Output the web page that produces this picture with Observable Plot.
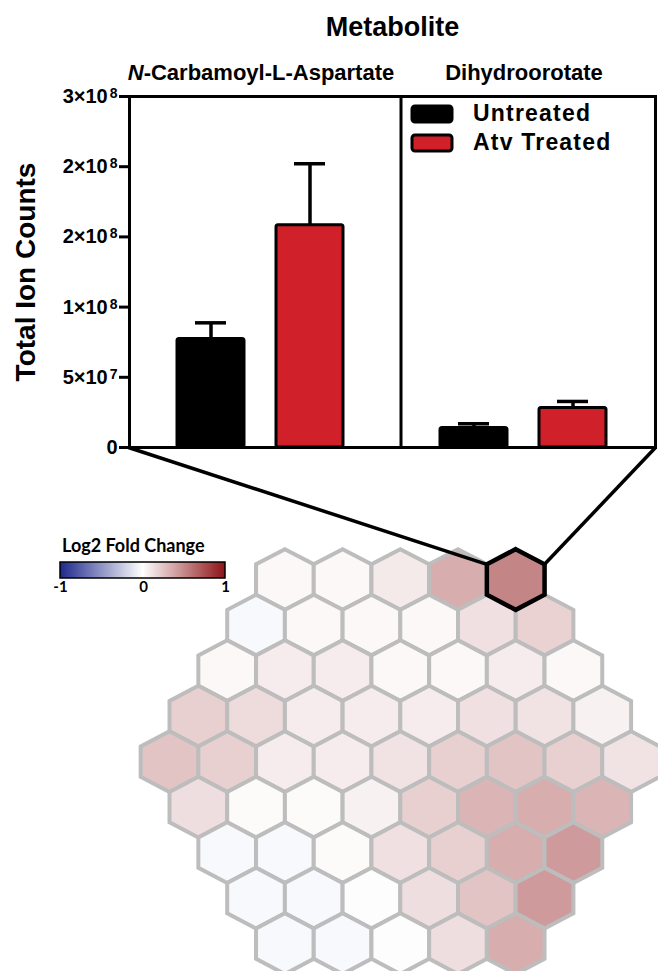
<!DOCTYPE html>
<html>
<head>
<meta charset="utf-8">
<script src="https://cdn.jsdelivr.net/npm/d3@7"></script>
<script src="https://cdn.jsdelivr.net/npm/@observablehq/plot@0.6"></script>
<style>
  html, body { margin: 0; padding: 0; background: #fff; }
  #root { position: relative; width: 658px; height: 971px; overflow: hidden; font-family: "Liberation Sans", Arial, sans-serif; }
  #bars { position: absolute; left: 0; top: 0; }
  #hex { position: absolute; left: 0; }
  #bars g[aria-label="fx-axis label"] { font-size: 27px; font-weight: bold; }
  #bars g[aria-label="y-axis label"] { font-size: 28px; font-weight: bold; }
  #barLegend { position: absolute; left: 411.5px; top: 105.5px; }
  #barLegend [class*="swatches"] { display: flex !important; flex-direction: column; align-items: flex-start; font: bold 23px "Liberation Sans", Arial, sans-serif; letter-spacing: 1.2px; margin: 0; min-height: 0; }
  #barLegend [class$="-swatch"] { display: flex !important; align-items: center; height: 16px; margin: 0 0 13px 0 !important; }
  #barLegend svg { margin-right: 21.5px !important; overflow: visible; }
  #barLegend rect { stroke: #000; stroke-width: 3px; rx: 3px; }
  #fcTitle { position: absolute; left: 62px; top: 536px; font: bold 18px Lato, "Open Sans", sans-serif; line-height: 18px; color: #000; }
  #fcLegend { position: absolute; left: 50px; top: 560px; }
</style>
</head>
<body>
<div id="root">
  <div id="bars"></div>
  <div id="hex"></div>
  <div id="barLegend"></div>
  <div id="fcTitle">Log2 Fold Change</div>
  <div id="fcLegend"></div>
</div>
<script>
// ---------------- Bar chart data ----------------
const metabolites = ["N-Carbamoyl-L-Aspartate", "Dihydroorotate"];
const groups = ["Untreated", "Atv Treated"];
const groupColors = ["#000000", "#d0212a"];
const meanUntreated = [7.73e7, 1.39e7];
const meanTreated = [1.583e8, 2.81e7];
const semUntreated = [1.15e7, 3.0e6];
const semTreated = [4.38e7, 4.7e6];
const yTicks = [0, 5e7, 1e8, 1.5e8, 2e8, 2.5e8];
const yTickLabels = ["0", "5×10⁷", "1×10⁸", "2×10⁸", "2×10⁸", "3×10⁸"];

// ---------------- Hex map data (log2 fold change), rows top to bottom ----------------
const hexRow0 = [0.03, 0.03, 0.09, 0.35, 0.52];
const hexRow1 = [-0.03, 0.03, 0.03, 0.03, 0.13, 0.19];
const hexRow2 = [0.03, 0.08, 0.08, 0.03, 0.03, 0.08, 0.03];
const hexRow3 = [0.20, 0.15, 0.08, 0.08, 0.08, 0.13, 0.12, 0.06];
const hexRow4 = [0.25, 0.20, 0.08, 0.08, 0.12, 0.20, 0.25, 0.20, 0.12];
const hexRow5 = [0.14, 0.02, 0.02, 0.06, 0.20, 0.32, 0.35, 0.32];
const hexRow6 = [-0.03, -0.03, 0.02, 0.13, 0.20, 0.35, 0.43];
const hexRow7 = [-0.03, -0.03, 0.01, 0.14, 0.25, 0.43];
const hexRow8 = [-0.03, -0.03, 0.01, 0.14, 0.35];
const highlightRow = 0, highlightIndex = 4;
const fcTicks = [-1, 0, 1];
const fcTickLabels = ["-1", "0", "1"];
const fcColors = ["#1f2a8c", "#ffffff", "#8e1418"];

// ---------------- Bar chart ----------------
const barData = metabolites.flatMap((m, i) => [
  {metabolite: m, group: groups[0], mean: meanUntreated[i], top: meanUntreated[i] + semUntreated[i]},
  {metabolite: m, group: groups[1], mean: meanTreated[i], top: meanTreated[i] + semTreated[i]}
]);

const BAR_W = 658, BAR_H = 450, BAR_ML = 128, BAR_MR = 3, BAR_MT = 96, BAR_MB = 3;
const DIVIDER_SHIFT = 8.5; // the panel divider sits slightly right of the facet boundary
const frameStyle = {stroke: "black", strokeWidth: 3};

const barPlot = Plot.plot({
  width: BAR_W, height: BAR_H,
  marginLeft: BAR_ML, marginRight: BAR_MR, marginTop: BAR_MT, marginBottom: BAR_MB,
  style: {background: "transparent", fontFamily: "'Liberation Sans', Arial, sans-serif", overflow: "visible", color: "#000"},
  fx: {domain: metabolites, padding: 0},
  x: {domain: groups, paddingInner: 0.32, paddingOuter: 0.48, axis: null},
  y: {domain: [0, 2.5e8], nice: false},
  color: {domain: groups, range: groupColors},
  marks: [
    Plot.axisFx({anchor: "top", tickSize: 0, tickPadding: 17, fontSize: 22, fontWeight: "bold",
      label: "Metabolite", labelAnchor: "center", labelOffset: 80, labelArrow: "none"}),
    Plot.axisY({ticks: yTicks, tickFormat: d => yTickLabels[yTicks.indexOf(d)], tickSize: 10, tickPadding: 2,
      strokeWidth: 3, fontSize: 20, fontWeight: "bold",
      label: "Total Ion Counts", labelAnchor: "center", labelOffset: 114, labelArrow: "none"}),
    Plot.ruleX(barData, {fx: "metabolite", x: "group", y1: "mean", y2: "top", stroke: "black", strokeWidth: 3.5}),
    Plot.tickY(barData, {fx: "metabolite", x: "group", y: "top", stroke: "black", strokeWidth: 3.5, insetLeft: 18, insetRight: 18}),
    Plot.barY(barData, {fx: "metabolite", x: "group", y: "mean", fill: "group", stroke: "black", strokeWidth: 3, rx: 2}),
    Plot.frame({...frameStyle, anchor: "top"}),
    Plot.frame({...frameStyle, anchor: "bottom"}),
    Plot.frame({...frameStyle, anchor: "left", fx: () => metabolites[0]}),
    Plot.frame({...frameStyle, anchor: "right", fx: () => metabolites[metabolites.length - 1]}),
    Plot.frame({...frameStyle, anchor: "left", fx: () => metabolites[1], dx: DIVIDER_SHIFT})
  ]
});
document.getElementById("bars").appendChild(barPlot);

// italic "N" in N-Carbamoyl-L-Aspartate
d3.select(barPlot).selectAll('g[aria-label="fx-axis tick label"] text').each(function() {
  const t = this.textContent;
  if (t.startsWith("N-")) {
    const sel = d3.select(this);
    sel.text(null);
    sel.append("tspan").attr("font-style", "italic").text("N");
    sel.append("tspan").text(t.slice(1));
  }
});

// raised exponents in y tick labels
const supMap = {"⁰": "0", "¹": "1", "²": "2", "³": "3", "⁴": "4", "⁵": "5", "⁶": "6", "⁷": "7", "⁸": "8", "⁹": "9"};
d3.select(barPlot).selectAll('g[aria-label="y-axis tick label"] text').each(function() {
  const t = this.textContent;
  const m = t.match(/^(.*?)([⁰¹²³⁴⁵⁶⁷⁸⁹]+)$/);
  if (m) {
    const sel = d3.select(this);
    sel.text(null);
    sel.append("tspan").text(m[1]);
    sel.append("tspan").style("font-size", "70%").attr("dx", 2).attr("dy", "-0.35em")
      .text([...m[2]].map(c => supMap[c]).join(""));
  }
});

// Bar legend
const barLegend = Plot.legend({color: {domain: groups, range: groupColors}, swatchWidth: 40, swatchHeight: 16});
document.getElementById("barLegend").appendChild(barLegend);

// ---------------- Hex map ----------------
const HEX_TOP = 438;
const HEX_HALF_W = 28.85, HEX_HALF_H = 30.35, ROW_STEP = 1.5 * HEX_HALF_H;
const HEX_X0 = 169, HEX_Y0 = 579;
document.getElementById("hex").style.top = HEX_TOP + "px";

const hexRows = [hexRow0, hexRow1, hexRow2, hexRow3, hexRow4, hexRow5, hexRow6, hexRow7, hexRow8];
const midRow = (hexRows.length - 1) / 2;
const hexData = hexRows.flatMap((vals, row) => vals.map((value, q) => ({
  row, pos: Math.abs(row - midRow) + 2 * q, value,
  highlight: row === highlightRow && q === highlightIndex
})));
const maxPos = 2 * (d3.max(hexRows, r => r.length) - 1);

const hexXOpts = {type: "linear", domain: [0, maxPos], range: [HEX_X0, HEX_X0 + maxPos * HEX_HALF_W]};
const hexYOpts = {type: "linear", domain: [0, hexRows.length - 1], range: [HEX_Y0 - HEX_TOP, HEX_Y0 - HEX_TOP + (hexRows.length - 1) * ROW_STEP]};
const fcColor = {type: "linear", domain: fcTicks, range: fcColors, interpolate: "rgb"};

const hexSymbol = {
  draw(ctx, size) {
    const w = Math.sqrt(size / Math.PI), h = w * HEX_HALF_H / HEX_HALF_W;
    ctx.moveTo(0, -h); ctx.lineTo(w, -h / 2); ctx.lineTo(w, h / 2);
    ctx.lineTo(0, h); ctx.lineTo(-w, h / 2); ctx.lineTo(-w, -h / 2); ctx.closePath();
  }
};

// connectors from bar-chart frame bottom corners to the highlighted hexagon
const sx = Plot.scale({x: hexXOpts}), sy = Plot.scale({y: hexYOpts});
const hi = hexData.find(d => d.highlight);
const frameBottom = BAR_H - BAR_MB - HEX_TOP;
const vertexDy = (HEX_HALF_H / 2) / ROW_STEP;
const connectors = [
  {x1: sx.invert(BAR_ML), y1: sy.invert(frameBottom), x2: hi.pos - 1, y2: hi.row - vertexDy},
  {x1: sx.invert(BAR_W - BAR_MR), y1: sy.invert(frameBottom), x2: hi.pos + 1, y2: hi.row - vertexDy}
];

const hexPlot = Plot.plot({
  width: 658, height: 971 - HEX_TOP, margin: 0,
  style: {background: "transparent", overflow: "visible"},
  x: {...hexXOpts, axis: null},
  y: {...hexYOpts, axis: null},
  color: fcColor,
  marks: [
    Plot.dot(hexData, {x: "pos", y: "row", r: HEX_HALF_W, symbol: hexSymbol, fill: "value", stroke: "#bdbdbd", strokeWidth: 4}),
    Plot.link(connectors, {x1: "x1", y1: "y1", x2: "x2", y2: "y2", stroke: "black", strokeWidth: 3.5}),
    Plot.dot(hexData.filter(d => d.highlight), {x: "pos", y: "row", r: HEX_HALF_W, symbol: hexSymbol, fill: "value", stroke: "black", strokeWidth: 4.5, strokeLinejoin: "miter"})
  ]
});
document.getElementById("hex").appendChild(hexPlot);

// Fold-change colour bar
const FC_W = 185, FC_H = 38, FC_ML = 10, FC_MR = 10, FC_MT = 2, FC_MB = 20;
const fcLegend = Plot.legend({
  color: fcColor, label: null,
  width: FC_W, height: FC_H, marginLeft: FC_ML, marginRight: FC_MR, marginTop: FC_MT, marginBottom: FC_MB,
  ticks: fcTicks, tickSize: 0, tickFormat: d => fcTickLabels[fcTicks.indexOf(d)]
});
document.getElementById("fcLegend").appendChild(fcLegend);
const fcSel = d3.select(fcLegend);
fcSel.selectAll(".tick line").remove();
fcSel.selectAll("text")
  .attr("font-size", 15).attr("font-weight", "bold").attr("font-family", "Lato, 'Open Sans', sans-serif")
  .style("font-size", "15px").style("font-weight", "bold").style("font-family", "Lato, 'Open Sans', sans-serif")
  .attr("fill", "#000");
fcSel.append("rect")
  .attr("x", FC_ML).attr("y", FC_MT)
  .attr("width", FC_W - FC_ML - FC_MR).attr("height", FC_H - FC_MT - FC_MB)
  .attr("fill", "none").attr("stroke", "#000").attr("stroke-width", 1.5);
</script>
</body>
</html>
